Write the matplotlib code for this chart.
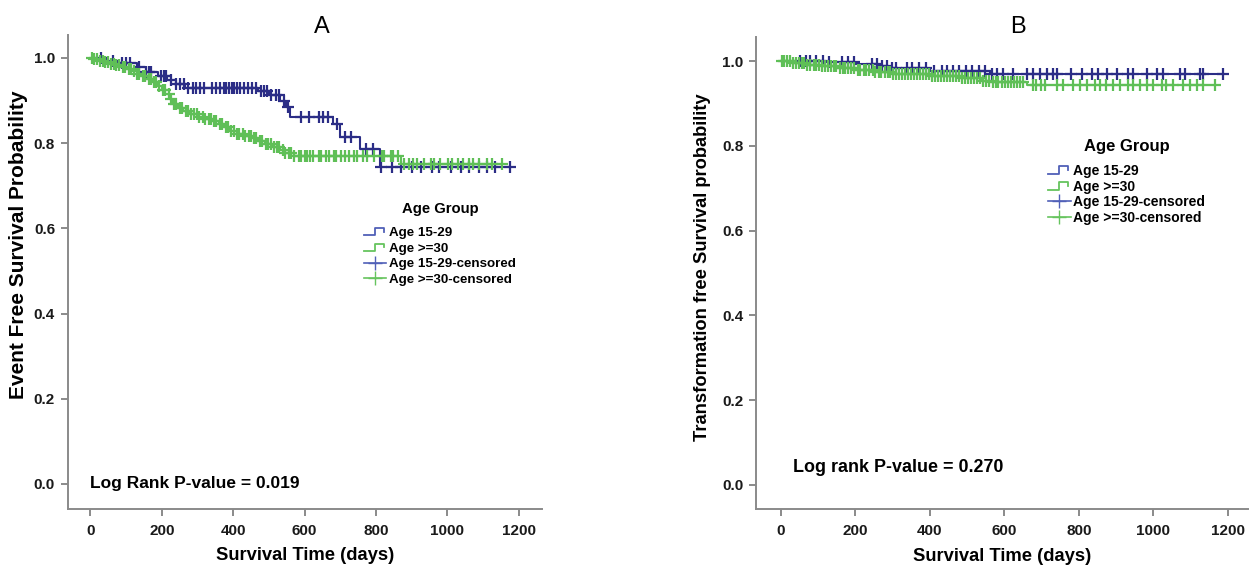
import numpy as np
import matplotlib
matplotlib.use("Agg")
import matplotlib.pyplot as plt
from matplotlib import font_manager
from matplotlib.lines import Line2D
from matplotlib.legend_handler import HandlerBase

plt.rcParams['font.family'] = ['Liberation Sans', 'DejaVu Sans']

# tick labels in the source look like a narrow bold face
_names = {f.name for f in font_manager.fontManager.ttflist}
if 'Liberation Sans Narrow' in _names:
    TICK_FAMILY, TICK_SIZE = 'Liberation Sans Narrow', 12.5
else:
    TICK_FAMILY, TICK_SIZE = 'Liberation Sans', 11

BLUE = '#2b2d86'
GREEN = '#5fbf57'
LEG_BLUE = '#5060b8'
LEG_GREEN = '#66c45e'
GREY = '#8a8a8a'

# ---- panel A : event free survival (Kaplan-Meier steps) ----
a_young_t = [0, 45, 80, 130, 155, 190, 215, 240, 265, 470, 500, 530, 548, 560,
             680, 698, 755, 810, 1175]
a_young_s = [1.0, 0.994, 0.988, 0.978, 0.967, 0.958, 0.949, 0.940, 0.930, 0.922,
             0.914, 0.900, 0.885, 0.862, 0.846, 0.815, 0.787, 0.743, 0.743]
a_young_cens = [30, 62, 88, 100, 110, 135, 157, 163, 171, 198, 206, 213, 226, 241,
                252, 263, 272, 286, 295, 306, 318, 341, 352, 364, 373, 381, 387, 396,
                403, 411, 419, 429, 441, 452, 463, 478, 486, 494, 506, 519, 527, 541,
                553, 591, 611, 639, 652, 666, 691, 712, 731, 771, 791, 813, 846, 871,
                901, 926, 958, 976, 1011, 1039, 1061, 1089, 1112, 1134, 1175]

a_old_t = [0, 10, 25, 40, 55, 70, 85, 100, 115, 130, 145, 160, 175, 190, 200, 210,
           220, 230, 245, 260, 280, 300, 320, 340, 360, 375, 390, 410, 430, 450, 470,
           490, 510, 530, 545, 570, 870, 1152]
a_old_s = [1.0, 0.997, 0.993, 0.990, 0.987, 0.984, 0.980, 0.975, 0.969, 0.963, 0.957,
           0.950, 0.943, 0.935, 0.926, 0.915, 0.903, 0.892, 0.882, 0.875, 0.868, 0.862,
           0.857, 0.852, 0.846, 0.838, 0.829, 0.822, 0.817, 0.812, 0.806, 0.799, 0.792,
           0.784, 0.777, 0.770, 0.752, 0.752]
a_old_cens = [4, 11, 19, 27, 36, 41, 49, 57, 67, 73, 81, 91, 97, 107, 113, 121, 131,
              137, 147, 153, 163, 169, 179, 185, 193, 203, 209, 219, 225, 235, 241, 251,
              257, 267, 273, 283, 289, 299, 305, 315, 321, 331, 337, 347, 353, 363, 369,
              379, 385, 395, 401, 411, 417, 427, 433, 443, 449, 459, 465, 475, 481, 491,
              497, 507, 513, 523, 529, 539, 545, 555, 561, 571, 583, 589, 601, 606, 616,
              624, 641, 647, 661, 669, 681, 689, 703, 714, 725, 739, 746, 764, 776, 794,
              816, 821, 841, 847, 861, 879, 891, 904, 916, 934, 954, 963, 979, 1001, 1014,
              1031, 1044, 1061, 1071, 1089, 1111, 1124, 1152]

# ---- panel B : transformation free survival ----
b_young_t = [0, 120, 200, 260, 290, 400, 560, 1187]
b_young_s = [1.0, 0.997, 0.993, 0.988, 0.983, 0.978, 0.970, 0.970]
b_young_cens = [52, 66, 78, 95, 112, 128, 165, 180, 196, 243, 258, 271, 284, 297, 309,
                338, 352, 371, 389, 412, 431, 447, 462, 478, 497, 512, 531, 548, 566,
                580, 597, 624, 660, 677, 695, 713, 731, 740, 780, 808, 835, 851, 875,
                902, 932, 946, 982, 1009, 1026, 1071, 1084, 1125, 1133, 1187]

b_old_t = [0, 30, 70, 110, 150, 200, 250, 300, 400, 480, 540, 560, 660, 1165]
b_old_s = [1.0, 0.996, 0.992, 0.988, 0.984, 0.979, 0.974, 0.970, 0.966, 0.961,
           0.954, 0.950, 0.944, 0.944]
b_old_cens = [3, 9, 17, 24, 33, 39, 47, 56, 63, 71, 79, 88, 94, 103, 111, 118, 127, 133,
              142, 149, 158, 166, 173, 181, 189, 197, 206, 213, 222, 229, 237, 246, 253,
              262, 269, 278, 286, 294, 301, 309, 318, 326, 333, 342, 349, 358, 366, 373,
              382, 390, 398, 405, 414, 421, 430, 438, 446, 453, 462, 470, 478, 486, 494,
              503, 510, 518, 527, 534, 543, 551, 559, 568, 576, 584, 593, 601, 609, 618,
              626, 634, 642, 651, 677, 686, 698, 710, 740, 758, 785, 803, 821, 843, 856,
              874, 892, 910, 932, 946, 964, 982, 1000, 1022, 1035, 1053, 1080, 1098,
              1116, 1134, 1165]

ticks_x = [0, 200, 400, 600, 800, 1000, 1200]
ticks_y = [0.0, 0.2, 0.4, 0.6, 0.8, 1.0]
legend_labels = ['Age 15-29', 'Age >=30', 'Age 15-29-censored', 'Age >=30-censored']


class StepHandler(HandlerBase):
    # little step glyph SPSS uses for the survival lines in the legend
    def create_artists(self, legend, orig_handle, xd, yd, w, h, fontsize, trans):
        xs = np.array([0.0, 0.5, 0.5, 0.9, 0.9]) * w - xd
        ys = np.array([0.1, 0.1, 0.85, 0.85, 0.5]) * h - yd
        ln = Line2D(xs, ys, color=orig_handle.get_color(), lw=1.3, transform=trans)
        return [ln]


def surv_at(times, surv, t):
    idx = np.searchsorted(times, t, side='right') - 1
    return np.asarray(surv)[idx]


def draw_km(ax, times, surv, cens, color):
    ax.step(times, surv, where='post', color=color, lw=1.5)
    cy = surv_at(np.asarray(times), surv, np.asarray(cens))
    ax.plot(cens, cy, linestyle='none', marker='+', color=color,
            markersize=9, markeredgewidth=1.6)


def style_axes(ax, xlim, ylim):
    ax.set_xlim(*xlim)
    ax.set_ylim(*ylim)
    ax.set_xticks(ticks_x)
    ax.set_yticks(ticks_y)
    ax.set_yticklabels(['%.1f' % v for v in ticks_y])
    for s in ['top', 'right']:
        ax.spines[s].set_visible(False)
    for s in ['left', 'bottom']:
        ax.spines[s].set_color(GREY)
        ax.spines[s].set_linewidth(1.4)
    ax.tick_params(axis='both', colors=GREY, width=1.4, length=5, labelcolor='#1a1a1a')
    ax.tick_params(axis='x', pad=6)
    ax.tick_params(axis='y', pad=4)
    for lab in ax.get_xticklabels() + ax.get_yticklabels():
        lab.set_fontweight('bold')
        lab.set_fontsize(TICK_SIZE)
        lab.set_family(TICK_FAMILY)


def set_labels(ax, ylabel, ysize, ypos, xpos):
    ax.set_xlabel('Survival Time (days)', fontsize=13.2, fontweight='bold')
    ax.xaxis.set_label_coords(xpos[0], xpos[1])
    ax.xaxis.label.set_va('center')
    ax.set_ylabel(ylabel, fontsize=ysize, fontweight='bold')
    ax.yaxis.set_label_coords(ypos[0], ypos[1])
    ax.yaxis.label.set_va('center')


def add_legend(ax, anchor, size, title_size, spacing, sep):
    handles = [Line2D([], [], color=LEG_BLUE), Line2D([], [], color=LEG_GREEN),
               Line2D([], [], color=LEG_BLUE, marker='+', markersize=10, lw=1.2),
               Line2D([], [], color=LEG_GREEN, marker='+', markersize=10, lw=1.2)]
    leg = ax.legend(handles, legend_labels, loc='upper left', bbox_to_anchor=anchor,
                    frameon=False, title='Age Group', numpoints=1,
                    handler_map={handles[0]: StepHandler(), handles[1]: StepHandler()},
                    prop={'weight': 'bold', 'size': size}, handlelength=1.65,
                    handletextpad=0.2, labelspacing=spacing, borderpad=0, borderaxespad=0)
    leg.get_title().set_fontweight('bold')
    leg.get_title().set_fontsize(title_size)
    leg._legend_box.sep = sep


fig = plt.figure(figsize=(12.53, 5.69), dpi=100)
axA = fig.add_axes([0.0539, 0.1054, 0.3787, 0.8331])
axB = fig.add_axes([0.6034, 0.1054, 0.3926, 0.8295])

draw_km(axA, a_young_t, a_young_s, a_young_cens, BLUE)
draw_km(axA, a_old_t, a_old_s, a_old_cens, GREEN)
style_axes(axA, (-64, 1265), (-0.059, 1.054))
set_labels(axA, 'Event Free Survival Probability', 15, (-0.104, 0.557), (0.5, -0.099))
add_legend(axA, (0.625, 0.648), 9.6, 10.7, 0.24, 8)
axA.text(0, 0.0, 'Log Rank P-value = 0.019', fontsize=12.5, fontweight='bold',
         va='center', ha='left')
fig.text(0.257, 0.952, 'A', fontsize=17, ha='center', va='center')

draw_km(axB, b_young_t, b_young_s, b_young_cens, BLUE)
draw_km(axB, b_old_t, b_old_s, b_old_cens, GREEN)
style_axes(axB, (-67, 1254), (-0.057, 1.057))
set_labels(axB, 'Transformation free Survival probability', 13.2, (-0.108, 0.512),
           (0.5, -0.1))
add_legend(axB, (0.593, 0.784), 10, 12, 0.13, 7)
axB.text(32, 0.042, 'Log rank P-value = 0.270', fontsize=12.9, fontweight='bold',
         va='center', ha='left')
fig.text(0.8125, 0.952, 'B', fontsize=17, ha='center', va='center')

fig.savefig('out.png', dpi=100)
